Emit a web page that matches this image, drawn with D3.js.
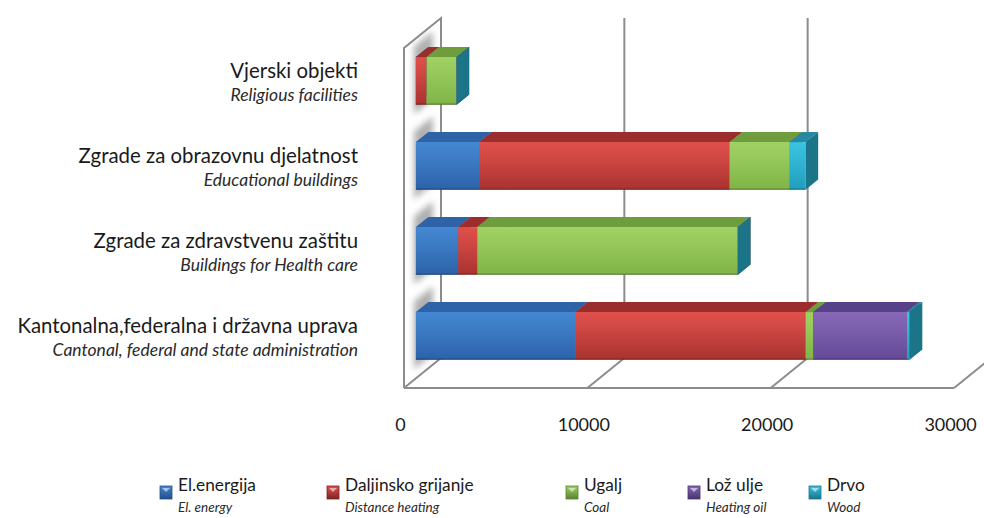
<!DOCTYPE html>
<html>
<head>
<meta charset="utf-8">
<script src="https://cdn.jsdelivr.net/npm/d3@7"></script>
<style>
  body { margin: 0; background: #fff; }
  svg { display: block; }
</style>
</head>
<body>
<svg id="chart" width="984" height="518"></svg>
<script>
// Energy consumption of public buildings by energy source
const categories = [
  "Vjerski objekti",
  "Zgrade za obrazovnu djelatnost",
  "Zgrade za zdravstvenu zaštitu",
  "Kantonalna,federalna i državna uprava"
];
const categoriesEn = [
  "Religious facilities",
  "Educational buildings",
  "Buildings for Health care",
  "Cantonal, federal and state administration"
];
const seriesNames = ["El.energija", "Daljinsko grijanje", "Ugalj", "Lož ulje", "Drvo"];
const seriesNamesEn = ["El. energy", "Distance heating", "Coal", "Heating oil", "Wood"];

// Values per category (same order as categories)
const elEnergija = [0, 3460, 2310, 8700];
const daljinskoGrijanje = [580, 13660, 1040, 12570];
const ugalj = [1640, 3280, 14210, 410];
const lozUlje = [0, 0, 0, 5110];
const drvo = [0, 860, 0, 150];

const xTicks = [0, 10000, 20000, 30000];

const seriesValues = [elEnergija, daljinskoGrijanje, ugalj, lozUlje, drvo];

// Face colours for each series: front gradient (top, bottom), top face, side face
const palette = [
  { f0: "#4487d2", f1: "#2b62a8", top: "#2f63a7", side: "#234f88" },
  { f0: "#e0504b", f1: "#a8322f", top: "#9b2e2c", side: "#7c2523" },
  { f0: "#9fd163", f1: "#80b447", top: "#6f9c3d", side: "#5a8230" },
  { f0: "#8768b6", f1: "#634a96", top: "#57428a", side: "#463470" },
  { f0: "#38c4e2", f1: "#219dbb", top: "#2689a3", side: "#1c7489" }
];

const svg = d3.select("#chart");

// 3D frame: front plane, depth offset
const frontTop = 48, frontBottom = 388;
const depth = { dx: 37, dy: -30 };
const barF0 = 0.32, barF1 = 0.66; // bar depth span inside the frame

const x = d3.scaleLinear().domain([0, 30000]).range([404, 954]);
const y = d3.scaleBand().domain(categories).range([frontTop, frontBottom])
  .paddingInner(0.44).paddingOuter(0.22);

const P = (v, yy, f) => [x(v) + f * depth.dx, yy + f * depth.dy];
const poly = pts => pts.map(p => p.join(",")).join(" ");

const defs = svg.append("defs");
palette.forEach((c, i) => {
  const g = defs.append("linearGradient").attr("id", "front" + i)
    .attr("x1", 0).attr("y1", 0).attr("x2", 0).attr("y2", 1);
  g.append("stop").attr("offset", "0%").attr("stop-color", c.f0);
  g.append("stop").attr("offset", "35%").attr("stop-color", d3.interpolateRgb(c.f0, c.f1)(0.3));
  g.append("stop").attr("offset", "100%").attr("stop-color", c.f1);
  const k = defs.append("linearGradient").attr("id", "key" + i)
    .attr("x1", 0).attr("y1", 0).attr("x2", 0).attr("y2", 1);
  k.append("stop").attr("offset", "0%").attr("stop-color", c.f0);
  k.append("stop").attr("offset", "100%").attr("stop-color", c.side);
});
defs.append("filter").attr("id", "soft")
  .attr("x", "-50%").attr("y", "-50%").attr("width", "200%").attr("height", "200%")
  .append("feGaussianBlur").attr("stdDeviation", 3);

const frame = svg.append("g").attr("fill", "none").attr("stroke", "#8c8c8c").attr("stroke-width", 2);

// Back wall gridlines
xTicks.forEach(v => {
  const a = P(v, frontTop, 1), b = P(v, frontBottom, 1);
  frame.append("line").attr("x1", a[0]).attr("y1", a[1]).attr("x2", b[0]).attr("y2", b[1]);
});
// Floor receding lines and front edge
xTicks.forEach(v => {
  const a = P(v, frontBottom, 0), b = P(v, frontBottom, 1);
  frame.append("line").attr("x1", a[0]).attr("y1", a[1]).attr("x2", b[0]).attr("y2", b[1]);
});
frame.append("line")
  .attr("x1", x(0)).attr("y1", frontBottom).attr("x2", x(30000)).attr("y2", frontBottom);
// Left wall outline
frame.append("polyline").attr("points", poly([
  P(0, frontBottom, 0), P(0, frontTop, 0), P(0, frontTop, 1), P(0, frontBottom, 1)
]));

// Soft shadows of the bars on the left wall
const shadows = svg.append("g").attr("filter", "url(#soft)");
categories.forEach(cat => {
  const t = y(cat), b = y(cat) + y.bandwidth();
  shadows.append("polygon")
    .attr("points", poly([P(0, t - 12, barF0 - 0.05), P(0, t - 12, barF1 + 0.12), P(0, b + 8, barF1 + 0.12), P(0, b + 8, barF0 - 0.05)]))
    .attr("fill", "#7a7a7a").attr("opacity", 0.6);
});

// Stacked 3D bars: each segment is a box with front, top and end faces
const bars = svg.append("g");
categories.forEach((cat, ci) => {
  const t = y(cat), b = y(cat) + y.bandwidth();
  let acc = 0;
  seriesValues.forEach((vals, si) => {
    const v0 = acc, v1 = acc + vals[ci];
    acc = v1;
    const c = palette[si];
    const g = bars.append("g");
    if (v1 > v0) {
      g.append("polygon").attr("points", poly([P(v0, t, barF0), P(v1, t, barF0), P(v1, t, barF1), P(v0, t, barF1)]))
        .attr("fill", c.top);
      g.append("polygon").attr("points", poly([P(v0, t, barF0), P(v1, t, barF0), P(v1, b, barF0), P(v0, b, barF0)]))
        .attr("fill", `url(#front${si})`);
    }
    g.append("polygon").attr("points", poly([P(v1, t, barF0), P(v1, t, barF1), P(v1, b, barF1), P(v1, b, barF0)]))
      .attr("fill", c.side);
  });
  // thin darker bottom edge of the bar
  const e0 = P(0, b, barF0), e1 = P(acc, b, barF0);
  bars.append("line").attr("x1", e0[0]).attr("y1", e0[1] - 0.5).attr("x2", e1[0]).attr("y2", e1[1] - 0.5)
    .attr("stroke", "#000").attr("stroke-opacity", 0.25).attr("stroke-width", 1.5);
});

const font = "Lato, 'Open Sans', sans-serif";

// Category labels (two lines: local and English)
const labels = svg.append("g").attr("font-family", font).attr("fill", "#1a1a1a").attr("text-anchor", "end");
categories.forEach((cat, i) => {
  const cy = y(cat) + y.bandwidth() / 2 + barF0 * depth.dy;
  labels.append("text").attr("x", 358).attr("y", cy - 3).attr("font-size", 20.4).text(cat);
  labels.append("text").attr("x", 358).attr("y", cy + 20).attr("font-size", 17.5)
    .attr("font-style", "italic").attr("fill", "#2a2a2a").text(categoriesEn[i]);
});

// Value axis
const axis = svg.append("g").attr("transform", `translate(-4, ${frontBottom + 29})`)
  .call(d3.axisBottom(x).tickValues(xTicks).tickSize(0).tickPadding(0).tickFormat(d3.format("d")));
axis.select(".domain").remove();
axis.selectAll("text").attr("font-family", font).attr("font-size", 18).attr("fill", "#1a1a1a")
  .attr("dy", "0.75em");

// Legend
const legendX = [160, 327, 566, 688, 809];
const legend = svg.append("g").attr("font-family", font);
seriesNames.forEach((name, i) => {
  const g = legend.append("g").attr("transform", `translate(${legendX[i]}, 486)`);
  g.append("rect").attr("width", 12).attr("height", 13).attr("fill", `url(#key${i})`)
    .attr("stroke", palette[i].side).attr("stroke-width", 0.8);
  g.append("path").attr("d", "M2,2 L10,2 L6,6 Z").attr("fill", "#fff").attr("opacity", 0.55);
  g.append("text").attr("x", 18).attr("y", 5).attr("font-size", 17.3).attr("fill", "#1a1a1a").text(name);
  g.append("text").attr("x", 18).attr("y", 26).attr("font-size", 13.5).attr("font-style", "italic")
    .attr("fill", "#2a2a2a").text(seriesNamesEn[i]);
});
</script>
</body>
</html>
